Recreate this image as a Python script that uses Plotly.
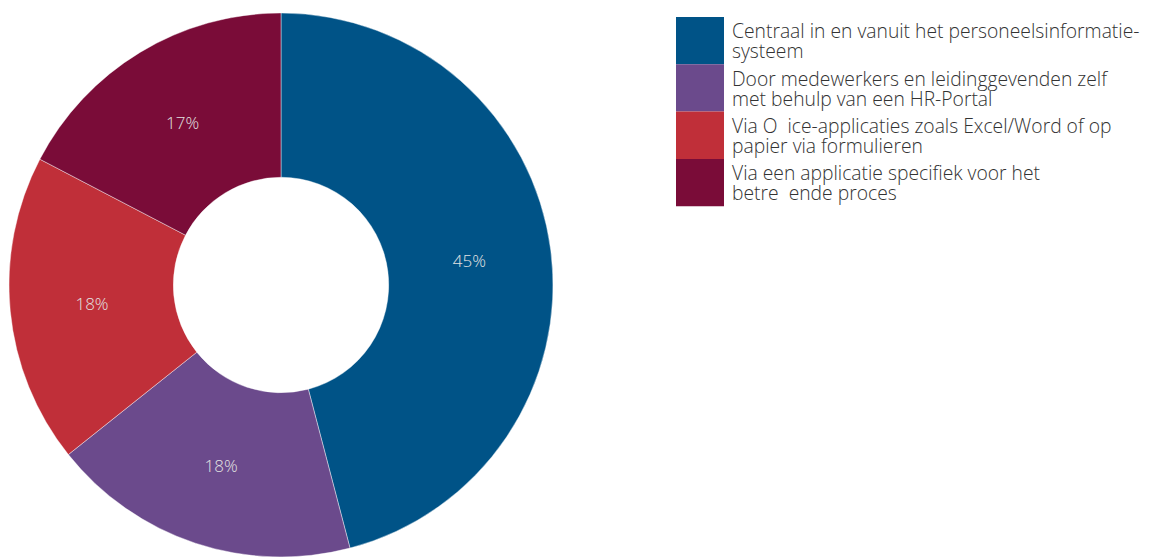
import plotly.graph_objects as go

# Share of organisations per way of handling HR processes
categories = [
    "Centraal in en vanuit het personeelsinformatie-<br>systeem",
    "Door medewerkers en leidinggevenden zelf<br>met behulp van een HR-Portal",
    "Via O  ice-applicaties zoals Excel/Word of op<br>papier via formulieren",
    "Via een applicatie specifiek voor het<br>betre  ende proces",
]
values = [45, 18, 18, 17]
colors = ["#005387", "#6B4A8C", "#C02F39", "#7A0C38"]

W, H = 1152, 557
TOP = 13
FONT = "Open Sans"


def py(y_px):
    """Pixel row (from top of page) to paper y."""
    return 1 - (y_px - TOP) / (H - TOP)


fig = go.Figure()
fig.add_trace(go.Pie(
    labels=[c.replace("<br>", " ") for c in categories],
    values=values,
    text=[f"{v}%" for v in values],
    textinfo="text",
    textposition="inside",
    insidetextorientation="horizontal",
    textfont=dict(family=FONT, size=17, color="#e2e2e2", weight=300),
    marker=dict(colors=colors, line=dict(color="rgba(255,255,255,0.6)", width=0.7)),
    hole=0.396,
    sort=False,
    direction="clockwise",
    rotation=0,
    domain=dict(x=[9 / W, 553 / W], y=[0, 1]),
    showlegend=False,
    hoverinfo="label+text",
))

# Hand-built legend: tall colour blocks with tightly spaced two-line labels
block_top, block_h = 17, 47.3
shapes, annotations = [], []
for i, (cat, col) in enumerate(zip(categories, colors)):
    top = block_top + i * block_h
    shapes.append(dict(
        type="rect", xref="paper", yref="paper",
        x0=676 / W, x1=724 / W,
        y0=py(top + block_h), y1=py(top),
        fillcolor=col, line=dict(width=0), layer="above",
    ))
    for j, line in enumerate(cat.split("<br>")):
        annotations.append(dict(
            xref="paper", yref="paper", x=730 / W, y=py(top + 14 + 20 * j),
            xanchor="left", yanchor="middle", align="left", showarrow=False,
            text=line, font=dict(family=FONT, size=19.3, color="#333333", weight=300),
        ))

fig.update_layout(
    width=W, height=H,
    margin=dict(l=0, r=0, t=TOP, b=0),
    paper_bgcolor="white", plot_bgcolor="white",
    shapes=shapes, annotations=annotations,
)

fig.write_html("out.html")
